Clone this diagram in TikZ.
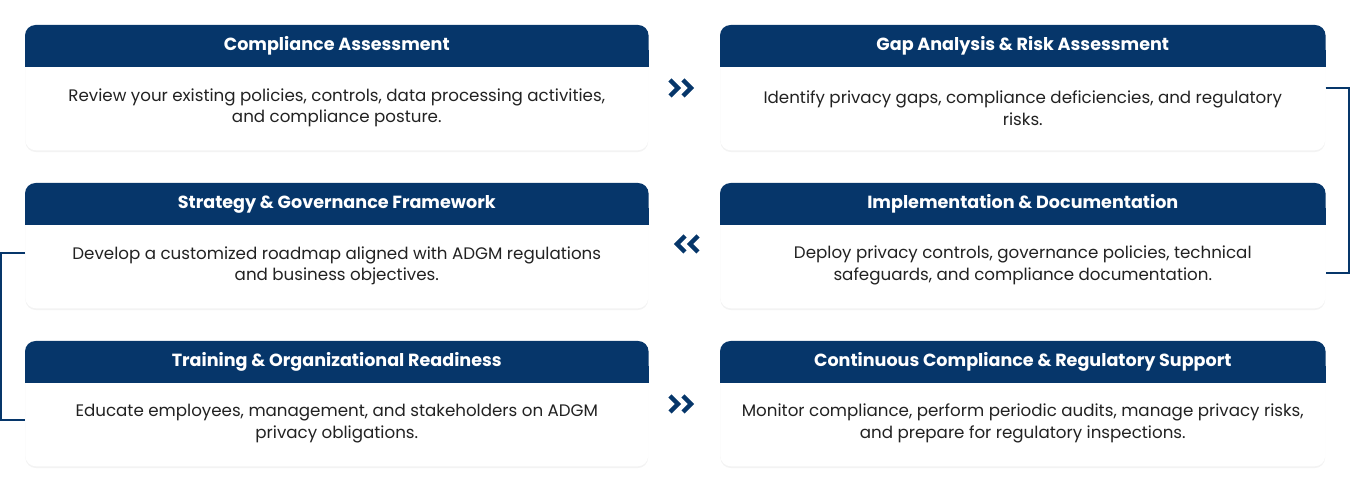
\documentclass[tikz,border=0pt]{standalone}
\usepackage{fontspec}
\setmainfont{Poppins}
\usetikzlibrary{positioning, calc, shadows}
\definecolor{navy}{HTML}{06366A}
\definecolor{ink}{HTML}{222222}

\begin{document}
\begin{tikzpicture}[x=0.02cm, y=-0.02cm,
  card/.style={draw=none, fill=white, rounded corners=6pt, minimum width=12.46cm,
    minimum height=2.5cm, anchor=north west, inner sep=0pt,
    drop shadow={shadow xshift=0pt, shadow yshift=-1pt, opacity=0.12, fill=black!40}},
  rcard/.style={card, minimum width=12.1cm},
  head/.style={text=white, font=\fontsize{10}{12}\selectfont\bfseries},
  body/.style={text=ink, align=center, font=\fontsize{9.5}{12.5}\selectfont},
  link/.style={navy, line width=1.2pt},
  chev/.style={navy, line width=2.6pt, line join=miter}]

  \useasboundingbox (0,0) rectangle (1350,492);

  % cards
  \node[card] (ca) at (25,25) {};
  \node[rcard] (ga) at (720,25) {};
  \node[card] (sg) at (25,183) {};
  \node[rcard] (id) at (720,183) {};
  \node[card] (tr) at (25,341) {};
  \node[rcard] (cc) at (720,341) {};

  % headers
  \foreach \c/\t in {ca/Compliance Assessment, ga/Gap Analysis \& Risk Assessment,
      sg/Strategy \& Governance Framework, id/Implementation \& Documentation,
      tr/Training \& Organizational Readiness, cc/Continuous Compliance \& Regulatory Support}{
    \fill[navy, rounded corners=6pt] (\c.north west) rectangle ($(\c.north east)+(0,-0.84cm)$);
    \fill[navy] ($(\c.north west)+(0,-0.5cm)$) rectangle ($(\c.north east)+(0,-0.84cm)$);
    \node[head] (\c-h) at ($(\c.north)+(0,-0.42cm)$) {\t};
  }

  % texts
  \node[body] (ca-t) at ($(ca.center)+(0,-0.4cm)$) {Review your existing policies, controls, data processing activities,\\and compliance posture.};
  \node[body] (ga-t) at ($(ga.center)+(0,-0.4cm)$) {Identify privacy gaps, compliance deficiencies, and regulatory\\risks.};
  \node[body] (sg-t) at ($(sg.center)+(0,-0.4cm)$) {Develop a customized roadmap aligned with ADGM regulations\\and business objectives.};
  \node[body] (id-t) at ($(id.center)+(0,-0.4cm)$) {Deploy privacy controls, governance policies, technical\\safeguards, and compliance documentation.};
  \node[body] (tr-t) at ($(tr.center)+(0,-0.4cm)$) {Educate employees, management, and stakeholders on ADGM\\privacy obligations.};
  \node[body] (cc-t) at ($(cc.center)+(0,-0.4cm)$) {Monitor compliance, perform periodic audits, manage privacy risks,\\and prepare for regulatory inspections.};

  % brackets
  \coordinate (r1) at (1349,88);
  \coordinate (r2) at (1349,273);
  \draw[link] (ga.east |- r1) -- (r1) -- (r2) -- (id.east |- r2);
  \coordinate (l1) at (1,253);
  \coordinate (l2) at (1,420);
  \draw[link] (sg.west |- l1) -- (l1) -- (l2) -- (tr.west |- l2);

  % chevrons
  \foreach \y/\d in {88/1, 404/1, 244/-1}{
    \foreach \o in {0,13}{
      \draw[chev] ({684+\d*(\o-14)},\y-8) -- ({684+\d*(\o-6)},\y) -- ({684+\d*(\o-14)},\y+8);
    }
  }
\end{tikzpicture}
\end{document}
